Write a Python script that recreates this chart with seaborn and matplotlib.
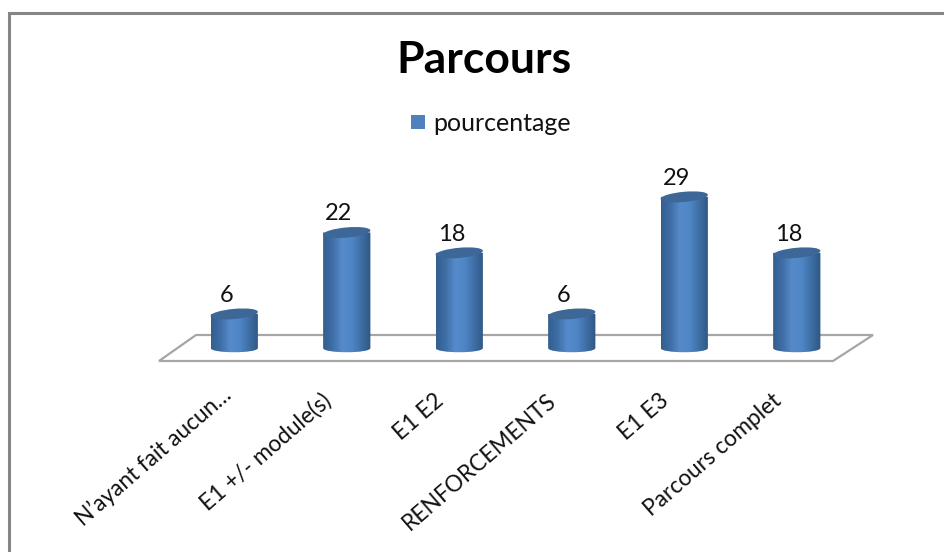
import numpy as np
import pandas as pd
import seaborn as sb
import matplotlib.pyplot as plt
from matplotlib.colors import LinearSegmentedColormap
from matplotlib.lines import Line2D
from matplotlib.patches import Polygon, Rectangle, PathPatch
from matplotlib.path import Path
from matplotlib.transforms import Affine2D, ScaledTranslation

categories = ["N\u2019ayant fait aucun\u2026", "E1 +/- module(s)", "E1 E2", "RENFORCEMENTS", "E1 E3", "Parcours complet"]
pourcentage = [6, 22, 18, 6, 29, 18]

W, H = 945, 552
sb.set_style("white")
plt.rcParams['font.family'] = ['Lato', 'DejaVu Sans']

df = pd.DataFrame({'parcours': categories, 'pourcentage': pourcentage})


def px(x, y):
    return (x / W, 1 - y / H)


fig = plt.figure(figsize=(W / 100, H / 100), dpi=100)
# plot area, in pixels of the reference
ax = fig.add_axes([178 / W, 1 - 362.3 / H, 675 / W, 185.8 / H])
sb.barplot(data=df, x='parcours', y='pourcentage', color='#4f81bd', width=0.42,
           saturation=1, ax=ax, zorder=3)
ax.set_xlabel('')
ax.set_ylabel('')
ax.set_yticks([])
sb.despine(ax=ax, left=True, bottom=True)
ax.patch.set_alpha(0)

# outer frame: only top and left
fig.add_artist(Line2D([9.5 / W, 9.5 / W, 1], [0, 1 - 13 / H, 1 - 13 / H], transform=fig.transFigure,
                      color='#868686', lw=2.2, solid_joinstyle='miter'))

# floor
floor = Polygon([px(196, 335), px(873, 335), px(833, 361), px(159, 361)], closed=True,
                transform=fig.transFigure, fc='white', ec='#a6a6a6', lw=1.6, zorder=-1)
fig.add_artist(floor)

cmap = LinearSegmentedColormap.from_list('cyl', ['#335f90', '#3f6fa6', '#568bcb', '#4f86c6', '#3f6fa6', '#2f5784'])
grad = np.linspace(0, 1, 64).reshape(1, -1)
for bar, val in zip(ax.patches, pourcentage):
    x0, w, h = bar.get_x(), bar.get_width(), bar.get_height()
    bar.set_visible(False)
    # body of the cylinder, with a rounded bottom
    verts = [(x0, h), (x0, -0.7), (x0, -1.8), (x0 + w, -1.8), (x0 + w, -0.7), (x0 + w, h), (x0, h)]
    codes = [Path.MOVETO, Path.LINETO, Path.CURVE4, Path.CURVE4, Path.CURVE4, Path.LINETO, Path.CLOSEPOLY]
    clip = PathPatch(Path(verts, codes), transform=ax.transData, fc='none', ec='none')
    ax.add_patch(clip)
    im = ax.imshow(grad, extent=(x0, x0 + w, -3.5, h), aspect='auto', cmap=cmap, zorder=3)
    im.set_clip_path(clip)
    # top of the cylinder, sheared a little to look tilted
    shear = Affine2D(np.array([[w / 2, 0, x0 + w / 2], [0.4, 1.0, h], [0, 0, 1]]))
    ax.add_patch(PathPatch(Path.unit_circle(), transform=shear + ax.transData, fc='#3d6797', ec='none', zorder=4))
    ax.text(x0 + w / 2 - 0.071, h + 3.7, str(val), ha='center', va='center', fontsize=17, color='#111111')

ax.set_xlim(-0.5, 5.5)
ax.set_ylim(-3.5, 33)

ax.tick_params(axis='x', length=0, pad=25)
ax.set_xticks(range(len(categories)))
ax.set_xticklabels(categories, rotation=41, ha='right', rotation_mode='anchor', fontsize=16.3, color='#111111')
shift = ScaledTranslation(-25 / 100, 7 / 100, fig.dpi_scale_trans)
for i, label in enumerate(ax.get_xticklabels()):
    label.set_transform(label.get_transform() + shift)
    # the truncated first label sits further right in the original
    if i == 0:
        label.set_transform(label.get_transform() + ScaledTranslation(12 / 100, 6 / 100, fig.dpi_scale_trans))

fig.text(484 / W, 1 - 60 / H, 'Parcours', ha='center', va='center', fontsize=32, fontweight='bold', color='black')

# legend
fig.add_artist(Rectangle(px(411, 129), 14.5 / W, 14 / H, transform=fig.transFigure, fc='#4f81bd', ec='none'))
fig.text(433 / W, 1 - 123.5 / H, 'pourcentage', ha='left', va='center', fontsize=18, color='#111111')

fig.savefig('out.png', dpi=100)
